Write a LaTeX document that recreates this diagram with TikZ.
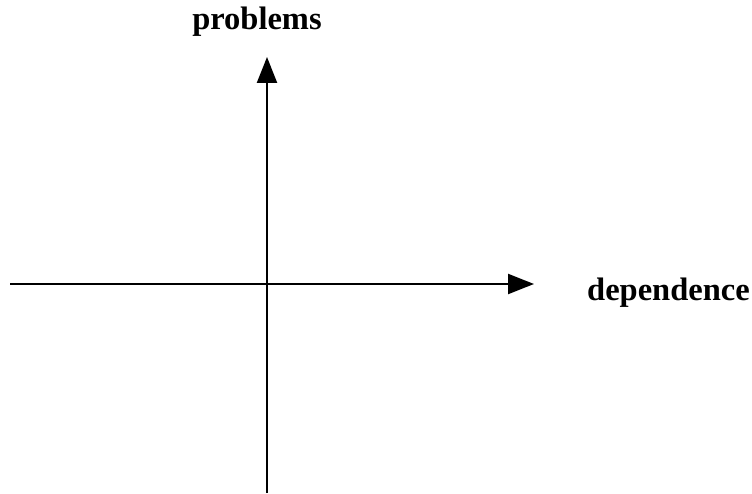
\documentclass[tikz,border=0pt]{standalone}
\usepackage{fontspec}
\setmainfont{Liberation Serif}
\usetikzlibrary{arrows.meta}
\begin{document}
\begin{tikzpicture}[x=1pt,y=1pt,
  axis/.style={line width=2.3pt,-{Triangle[length=26pt,width=20pt]}},
  lbl/.style={font=\fontsize{32.5}{38}\selectfont\bfseries,inner sep=0pt}]
\useasboundingbox (0,0) rectangle (752,493);
\coordinate (xstart) at (10,209);
\coordinate (xend) at (534,209);
\coordinate (ystart) at (267,0);
\coordinate (yend) at (267,436);
\draw[axis] (xstart) -- (xend);
\draw[axis] (ystart) -- (yend);
\node[lbl,anchor=base] (py) at (257,463) {problems};
\node[lbl,anchor=base west] (px) at (587,193) {dependence};
\end{tikzpicture}
\end{document}
